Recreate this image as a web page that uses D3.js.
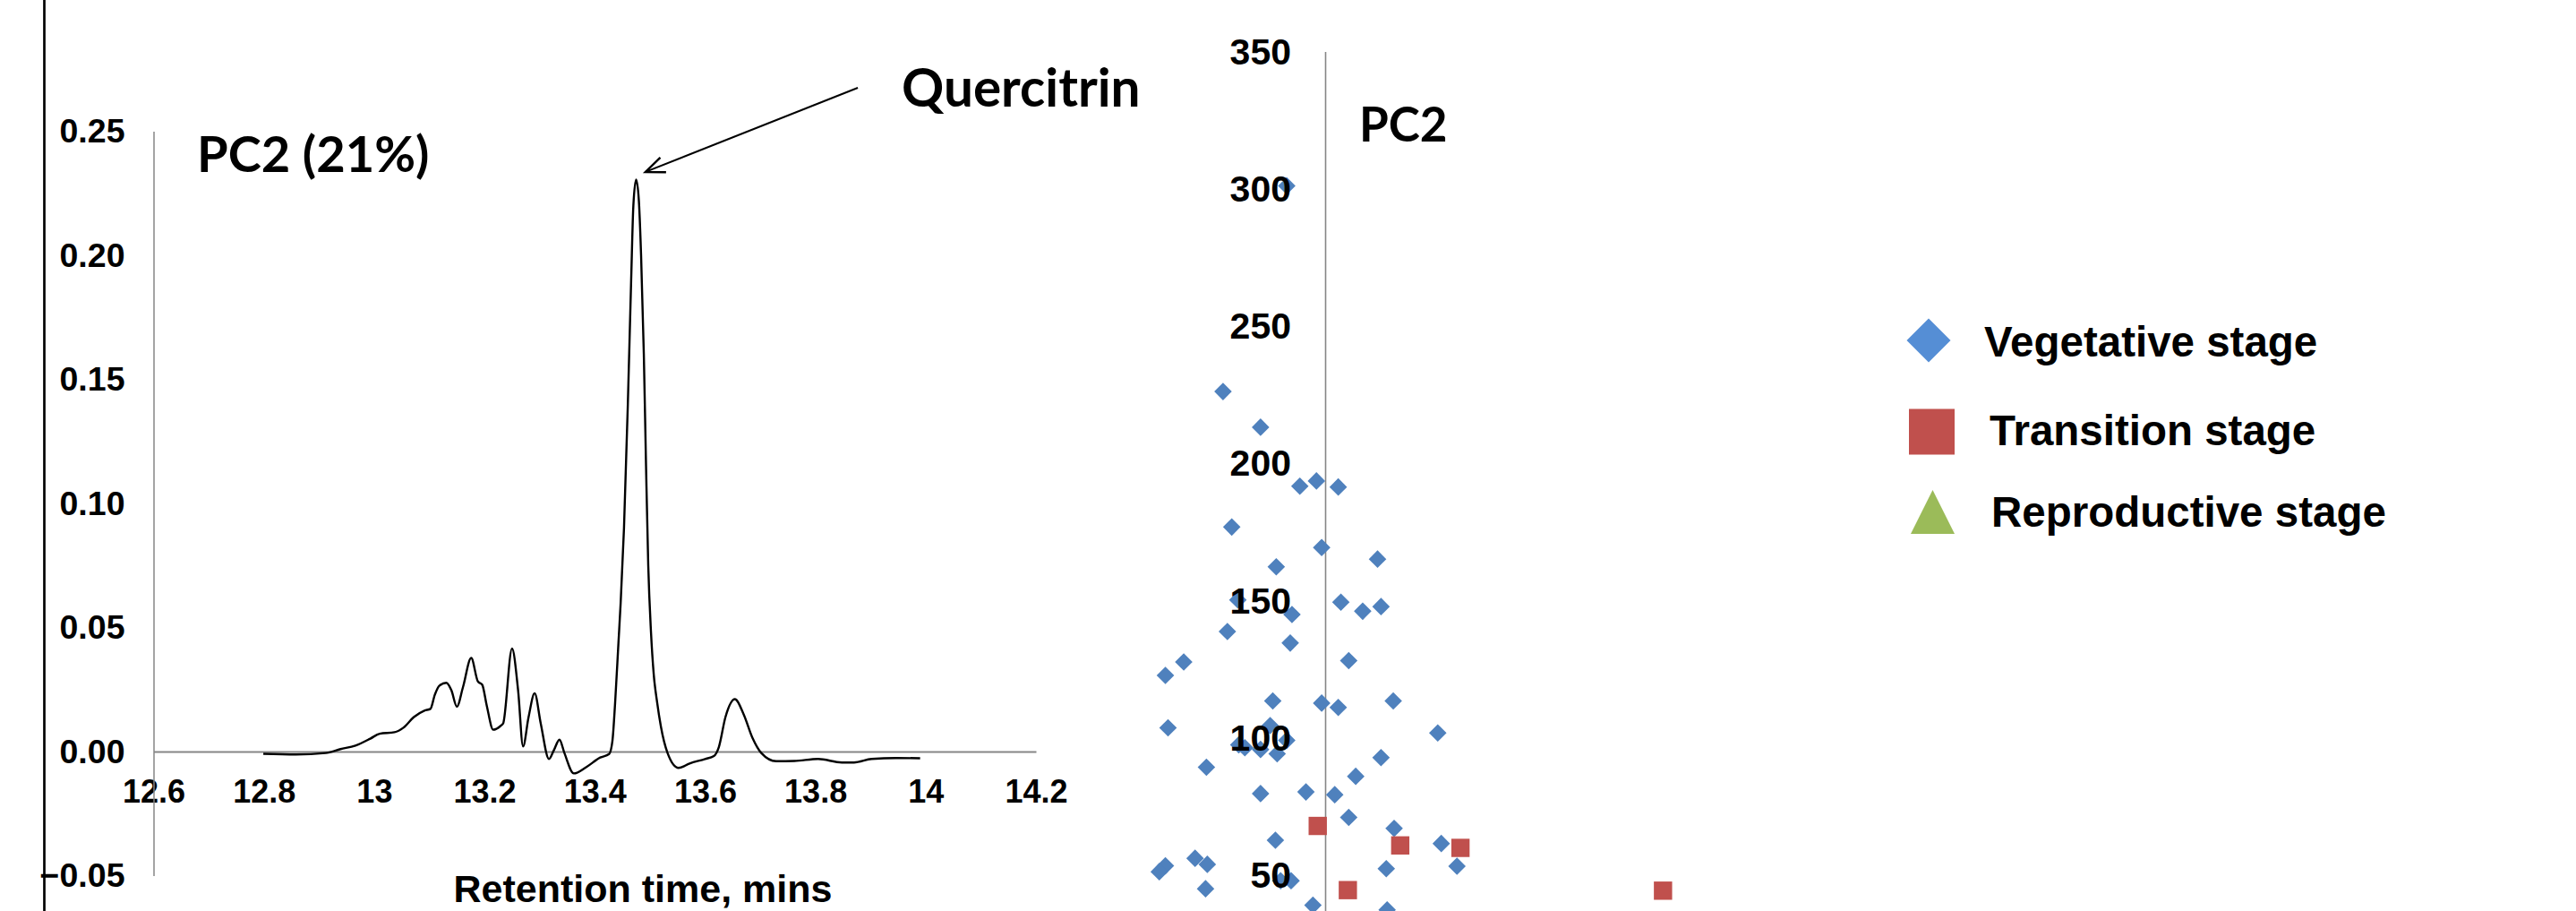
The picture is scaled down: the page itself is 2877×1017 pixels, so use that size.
<!DOCTYPE html>
<html lang="en">
<head>
	<meta charset="UTF-8"/>
	<title>PC2 loadings and scores</title>
	<script src="https://d3js.org/d3.v7.min.js"></script>
	<style>
		body { margin: 0; background: #fff; overflow: hidden; }
		text { font-family: "Liberation Sans", Arial, sans-serif; font-weight: bold; }
		.callout { font-family: Lato, "Open Sans", sans-serif; font-weight: bold; }
	</style>
</head>
<body>
	<script>

		var w = 2877;
		var h = 1017;

		// PC2 loading trace
		var retentionTime = [12.799, 12.858, 12.912, 12.939, 12.966, 12.993, 13.010, 13.037, 13.053, 13.072,
			13.091, 13.102, 13.110, 13.118, 13.131, 13.140, 13.150, 13.161, 13.176, 13.188,
			13.196, 13.204, 13.216, 13.229, 13.234, 13.250, 13.261, 13.270, 13.280, 13.291,
			13.302, 13.317, 13.326, 13.336, 13.345, 13.362, 13.385, 13.410, 13.426, 13.432,
			13.437, 13.443, 13.447, 13.453, 13.460, 13.466, 13.470, 13.475, 13.480, 13.484,
			13.489, 13.493, 13.497, 13.502, 13.507, 13.513, 13.520, 13.532, 13.552, 13.572,
			13.600, 13.616, 13.625, 13.637, 13.654, 13.670, 13.686, 13.702, 13.729, 13.762,
			13.805, 13.848, 13.870, 13.902, 13.946, 13.990];
		var pc2Loading = [-0.0009, -0.0012, -0.0006, 0.0010, 0.0024, 0.0052, 0.0072, 0.0078, 0.0096, 0.0139,
			0.0165, 0.0172, 0.0229, 0.0265, 0.0277, 0.0247, 0.0181, 0.0259, 0.0377, 0.0283,
			0.0269, 0.0187, 0.0088, 0.0103, 0.0114, 0.0415, 0.0247, 0.0021, 0.0139, 0.0235,
			0.0114, -0.0030, 0.0006, 0.0048, -0.0006, -0.0088, -0.0062, -0.0024, -0.0010, 0.0042,
			0.0199, 0.0439, 0.0600, 0.0900, 0.1400, 0.1900, 0.2200, 0.2305, 0.2220, 0.2000,
			0.1600, 0.1150, 0.0750, 0.0480, 0.0310, 0.0200, 0.0100, -0.0006, -0.0066, -0.0048,
			-0.0030, -0.0018, 0.0018, 0.0139, 0.0211, 0.0150, 0.0055, -0.0006, -0.0039, -0.0038,
			-0.0030, -0.0044, -0.0044, -0.0030, -0.0026, -0.0027];

		var loadingTicksX = [12.6, 12.8, 13, 13.2, 13.4, 13.6, 13.8, 14, 14.2];
		var loadingTicksY = [-0.05, 0, 0.05, 0.10, 0.15, 0.20, 0.25];

		// PC2 scores per growth stage (x is an arbitrary sample position)
		var vegX = [-44, -117, -74, -29, -10, 15, -107, -4, 60, -56,
			-100, 18, 64, 43, -38, -112, -40, -162, -183, 27,
			-180, -60, -4, 15, 78, -63, -44, -99, -92, -74,
			-55, 129, -136, 64, 35, -74, -22, 11, 27, 79,
			-57, 133, -183, -190, -149, -135, 70, 151, -51, -39,
			-137, -14, 71];
		var vegY = [301, 226, 213, 191.5, 193.4, 191.2, 176.6, 169.1, 164.9, 162.1,
			150, 149.2, 147.6, 145.9, 144.7, 138.5, 134.3, 127.4, 122.5, 127.9,
			103.4, 113.2, 112.4, 110.8, 113.2, 104.2, 98.8, 97.2, 96.1, 95.5,
			93.9, 101.5, 89, 92.5, 85.7, 79.4, 80, 79, 70.7, 66.7,
			62.4, 61.2, 53.1, 50.9, 55.8, 53.6, 52, 52.9, 47.6, 47.6,
			44.7, 38.7, 37];
		var transX = [-8.5, 86, 155, 26, 387];
		var transY = [67.6, 60.5, 59.6, 44.2, 44];
		var reproX = [];
		var reproY = [];

		var scoreTicksY = [50, 100, 150, 200, 250, 300, 350];
		var stageNames = ["Vegetative stage", "Transition stage", "Reproductive stage"];
		var stageColors = ["#4F81BD", "#C0504D", "#9BBB59"];
		var legendColors = ["#558ED5", "#C0504D", "#9BBB59"];

		var svg = d3.select("body")
					.append("svg")
					.attr("width", w)
					.attr("height", h);

		// arrow head for the callout
		svg.append("defs").append("marker")
			.attr("id", "arrow")
			.attr("markerUnits", "userSpaceOnUse")
			.attr("markerWidth", 30)
			.attr("markerHeight", 30)
			.attr("viewBox", "-20 -10 24 20")
			.attr("refX", 0)
			.attr("refY", 0)
			.attr("orient", "auto")
			.append("path")
			.attr("d", "M-17,-7 L0,0 L-17,7")
			.attr("fill", "none")
			.attr("stroke", "#000")
			.attr("stroke-width", 2);

		// black frame line on the left edge
		svg.append("line")
			.attr("x1", 49.5).attr("x2", 49.5)
			.attr("y1", 0).attr("y2", h)
			.attr("stroke", "#000")
			.attr("stroke-width", 2.7);

		//--------------- left: loading plot ---------------
		var xScale = d3.scaleLinear()
						.domain([12.6, 14.2])
						.range([171.5, 1157]);

		var yScale = d3.scaleLinear()
						.domain([-0.05, 0.25])
						.range([977.5, 146.5]);

		var xAxis = d3.axisBottom(xScale)
						.tickValues(loadingTicksX)
						.tickFormat(d3.format(""))
						.tickSize(0)
						.tickPadding(31);

		var yAxis = d3.axisLeft(yScale)
						.tickValues(loadingTicksY)
						.tickFormat(d3.format(".2f"))
						.tickSize(0)
						.tickPadding(32);

		var gx = svg.append("g")
			.attr("transform", "translate(0," + yScale(0) + ")")
			.call(xAxis);
		gx.select(".domain").attr("stroke", "#868686").attr("stroke-width", 2.2);

		var gy = svg.append("g")
			.attr("transform", "translate(" + xScale(12.6) + ",0)")
			.call(yAxis);
		gy.select(".domain").attr("stroke", "#868686").attr("stroke-width", 1.5);

		gx.selectAll(".tick text")
			.attr("font-size", 36);
		gy.selectAll(".tick text")
			.attr("font-size", 37.5);
		svg.selectAll(".tick text")
			.attr("font-family", "Liberation Sans, Arial, sans-serif")
			.attr("font-weight", "bold")
			.attr("fill", "#000");

		var trace = d3.line()
			.x(function(d, i) { return xScale(retentionTime[i]); })
			.y(function(d) { return yScale(d); })
			.curve(d3.curveMonotoneX);

		svg.append("path")
			.datum(pc2Loading)
			.attr("d", trace)
			.attr("fill", "none")
			.attr("stroke", "#000")
			.attr("stroke-width", 2.4)
			.attr("stroke-linejoin", "round");

		// axis title
		svg.append("text")
			.attr("text-anchor", "middle")
			.attr("x", 718)
			.attr("y", 1007)
			.attr("font-size", 43)
			.text("Retention time, mins");

		svg.append("text")
			.attr("class", "callout")
			.attr("x", 220)
			.attr("y", 192)
			.attr("font-size", 56)
			.text("PC2 (21%)");

		// Quercitrin callout
		svg.append("line")
			.attr("x1", xScale(13.877))
			.attr("y1", yScale(0.2675))
			.attr("x2", xScale(13.492))
			.attr("y2", yScale(0.2336))
			.attr("stroke", "#000")
			.attr("stroke-width", 2)
			.attr("marker-end", "url(#arrow)");

		svg.append("text")
			.attr("class", "callout")
			.attr("x", 1007)
			.attr("y", 119)
			.attr("font-size", 58.5)
			.text("Quercitrin");

		//--------------- right: scores plot ---------------
		var sxScale = d3.scaleLinear()
						.domain([-200, 600])
						.range([1285, 2065]);

		var syScale = d3.scaleLinear()
						.domain([0, 350])
						.range([1129, 57.5]);

		var sgy = svg.append("g")
			.attr("transform", "translate(" + sxScale(0) + ",0)")
			.call(d3.axisLeft(syScale).tickValues([]).tickSize(0));
		sgy.select(".domain").attr("stroke", "#868686").attr("stroke-width", 1.6);

		var diamond = function(r) {
			return "M0," + (-r) + "L" + r + ",0L0," + r + "L" + (-r) + ",0Z";
		};

		svg.append("g").selectAll("path")
			.data(vegY)
			.enter()
			.append("path")
			.attr("d", diamond(9.8))
			.attr("transform", function(d, i) {
				return "translate(" + sxScale(vegX[i]) + "," + syScale(d) + ")";
			})
			.attr("fill", stageColors[0]);

		svg.append("g").selectAll("rect")
			.data(transY)
			.enter()
			.append("rect")
			.attr("x", function(d, i) { return sxScale(transX[i]) - 10.2; })
			.attr("y", function(d) { return syScale(d) - 10.2; })
			.attr("width", 20.4)
			.attr("height", 20.4)
			.attr("fill", stageColors[1]);

		svg.append("g").selectAll("path")
			.data(reproY)
			.enter()
			.append("path")
			.attr("d", d3.symbol(d3.symbolTriangle, 200))
			.attr("transform", function(d, i) {
				return "translate(" + sxScale(reproX[i]) + "," + syScale(d) + ")";
			})
			.attr("fill", stageColors[2]);

		// tick labels drawn on top of the markers
		svg.append("g")
			.selectAll("text")
			.data(scoreTicksY)
			.enter()
			.append("text")
			.attr("text-anchor", "end")
			.attr("x", sxScale(0) - 38)
			.attr("y", function(d) { return syScale(d); })
			.attr("dy", "0.36em")
			.attr("font-size", 41)
			.text(function(d) { return d; });

		svg.append("text")
			.attr("class", "callout")
			.attr("x", 1518)
			.attr("y", 158)
			.attr("font-size", 53)
			.text("PC2");

		//--------------- legend ---------------
		var legendY = [380, 482, 572];
		var legendTextX = [2216, 2222, 2224];
		var legendBase = [398, 497, 588];

		var legend = svg.append("g");

		legend.append("path")
			.attr("d", diamond(24.5))
			.attr("transform", "translate(2154," + legendY[0] + ")")
			.attr("fill", legendColors[0]);

		legend.append("rect")
			.attr("x", 2132).attr("y", legendY[1] - 25.5)
			.attr("width", 51).attr("height", 51)
			.attr("fill", legendColors[1]);

		legend.append("path")
			.attr("d", "M0,-25L24.5,24L-24.5,24Z")
			.attr("transform", "translate(2158.5," + legendY[2] + ")")
			.attr("fill", legendColors[2]);

		legend.selectAll("text")
			.data(stageNames)
			.enter()
			.append("text")
			.attr("x", function(d, i) { return legendTextX[i]; })
			.attr("y", function(d, i) { return legendBase[i]; })
			.attr("font-size", 47.5)
			.text(function(d) { return d; });

	</script>
</body>
</html>
